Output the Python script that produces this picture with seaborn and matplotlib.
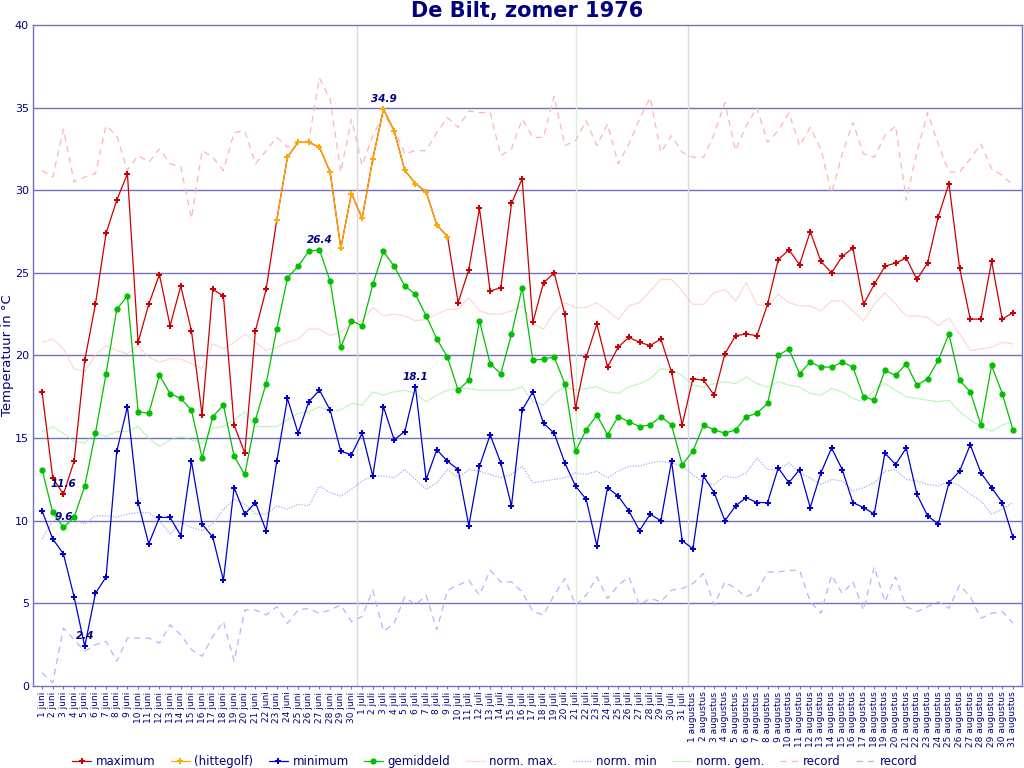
import numpy as np
import pandas as pd
import matplotlib
matplotlib.use("Agg")
import matplotlib.pyplot as plt
import seaborn as sns

# ---------------- data ----------------
juni = [f"{d} juni" for d in range(1, 31)]
juli = [f"{d} juli" for d in range(1, 32)]
augustus = [f"{d} augustus" for d in range(1, 32)]
day_labels = juni + juli + augustus

maximum = [17.8, 12.6, 11.6, 13.6, 19.7, 23.1, 27.4, 29.4, 31.0, 20.8, 23.1, 24.9, 21.8, 24.2, 21.5,
           16.4, 24.0, 23.6, 15.8, 14.1, 21.5, 24.0, 28.2, 32.0, 32.9, 32.9, 32.6, 31.1, 26.5, 29.8,
           28.3, 31.9, 34.9, 33.6, 31.2, 30.4, 29.9, 27.9, 27.2, 23.2, 25.2, 28.9, 23.9, 24.1, 29.2,
           30.7, 22.0, 24.4, 25.0, 22.5, 16.8, 19.9, 21.9, 19.3, 20.5, 21.1, 20.8, 20.6, 21.0, 19.0, 15.8,
           18.6, 18.5, 17.6, 20.1, 21.2, 21.3, 21.2, 23.1, 25.8, 26.4, 25.5, 27.5, 25.7, 25.0, 26.0,
           26.5, 23.1, 24.3, 25.4, 25.6, 25.9, 24.6, 25.6, 28.4, 30.4, 25.3, 22.2, 22.2, 25.7, 22.2, 22.6]

minimum = [10.6, 8.9, 8.0, 5.4, 2.4, 5.6, 6.6, 14.2, 16.9, 11.1, 8.6, 10.2, 10.2, 9.1, 13.6,
           9.8, 9.0, 6.4, 12.0, 10.4, 11.1, 9.4, 13.6, 17.4, 15.3, 17.2, 17.9, 16.7, 14.2, 14.0,
           15.3, 12.7, 16.9, 14.9, 15.4, 18.1, 12.5, 14.3, 13.6, 13.1, 9.7, 13.3, 15.2, 13.5, 10.9,
           16.7, 17.8, 15.9, 15.3, 13.5, 12.1, 11.3, 8.5, 12.0, 11.5, 10.6, 9.4, 10.4, 10.0, 13.6, 8.8,
           8.3, 12.7, 11.7, 10.0, 10.9, 11.4, 11.1, 11.1, 13.2, 12.3, 13.1, 10.8, 12.9, 14.4, 13.1,
           11.1, 10.8, 10.4, 14.1, 13.4, 14.4, 11.6, 10.3, 9.8, 12.3, 13.0, 14.6, 12.9, 12.0, 11.1, 9.0]

gemiddeld = [13.1, 10.5, 9.6, 10.2, 12.1, 15.3, 18.9, 22.8, 23.6, 16.6, 16.5, 18.8, 17.7, 17.4, 16.7,
             13.8, 16.3, 17.0, 13.9, 12.8, 16.1, 18.3, 21.6, 24.7, 25.4, 26.3, 26.4, 24.5, 20.5, 22.1,
             21.8, 24.3, 26.3, 25.4, 24.2, 23.7, 22.4, 21.0, 19.9, 17.9, 18.5, 22.1, 19.5, 18.9, 21.3,
             24.1, 19.7, 19.8, 19.9, 18.3, 14.2, 15.5, 16.4, 15.2, 16.3, 16.0, 15.7, 15.8, 16.3, 15.8, 13.4,
             14.2, 15.8, 15.5, 15.3, 15.5, 16.3, 16.5, 17.1, 20.0, 20.4, 18.9, 19.6, 19.3, 19.3, 19.6,
             19.3, 17.5, 17.3, 19.1, 18.8, 19.5, 18.2, 18.6, 19.7, 21.3, 18.5, 17.8, 15.8, 19.4, 17.7, 15.5]

# heat wave: 23 juni .. 9 juli
hittegolf_start = 22
hittegolf_end = 38

norm_max = [20.8, 21.0, 20.4, 19.2, 19.0, 20.0, 20.6, 20.3, 20.1, 20.6, 19.9, 19.6, 19.8, 19.8, 19.5,
            19.2, 20.7, 20.4, 20.8, 21.3, 20.8, 20.3, 20.5, 20.8, 21.0, 21.6, 21.6, 21.2, 21.4, 21.9,
            22.1, 22.9, 22.4, 22.5, 22.4, 22.1, 22.2, 22.5, 22.8, 22.8, 23.5, 22.7, 22.5, 22.5, 22.7,
            23.0, 21.9, 21.6, 22.6, 23.2, 22.9, 22.9, 23.2, 22.7, 22.2, 23.0, 23.2, 23.9, 24.6, 24.6, 23.9,
            23.1, 23.1, 23.8, 24.0, 23.3, 24.4, 23.1, 23.0, 23.7, 23.2, 23.0, 23.0, 22.7, 23.3, 23.3,
            22.7, 22.1, 23.1, 23.8, 23.1, 22.4, 22.4, 22.3, 21.8, 22.3, 21.3, 20.3, 20.4, 20.5, 20.8, 20.7]

norm_min = [8.9, 10.0, 10.0, 10.1, 9.8, 10.3, 10.3, 10.2, 10.4, 10.5, 10.5, 10.0, 9.2, 9.9, 9.6,
            9.4, 9.8, 10.7, 11.3, 11.0, 10.4, 10.4, 10.9, 10.7, 11.0, 10.9, 12.1, 11.7, 11.5, 11.9,
            12.4, 12.7, 12.7, 12.6, 13.1, 12.5, 11.9, 12.3, 13.1, 12.6, 13.1, 13.0, 12.8, 12.6, 12.8,
            13.3, 12.3, 12.4, 12.5, 12.6, 12.9, 12.8, 13.0, 12.6, 13.0, 13.3, 13.3, 13.5, 13.6, 13.5, 13.3,
            12.8, 12.3, 12.2, 12.7, 12.6, 12.9, 13.8, 13.1, 13.1, 13.5, 12.9, 12.6, 12.2, 12.5, 12.4,
            11.8, 12.0, 12.3, 13.0, 13.1, 12.5, 12.4, 12.2, 12.1, 12.4, 12.1, 11.6, 11.2, 10.4, 10.7, 11.1]

norm_gem = [15.4, 15.7, 15.3, 14.8, 14.7, 15.3, 15.1, 15.4, 15.4, 15.7, 15.0, 14.5, 14.9, 15.1, 14.9,
            14.7, 15.6, 15.7, 16.1, 16.6, 15.7, 15.7, 15.7, 16.1, 16.5, 16.6, 16.9, 16.6, 16.7, 17.1,
            17.0, 17.8, 17.6, 17.8, 17.9, 17.7, 17.2, 17.6, 17.9, 18.0, 18.0, 17.9, 17.9, 17.9, 17.9,
            18.1, 17.2, 17.0, 17.7, 18.1, 17.9, 18.0, 18.1, 17.8, 17.7, 18.1, 18.3, 18.6, 19.2, 19.1, 18.8,
            18.2, 18.1, 18.3, 18.4, 18.3, 18.7, 18.3, 18.1, 18.4, 18.2, 18.1, 17.7, 17.6, 18.0, 17.8,
            17.4, 17.2, 17.9, 18.3, 17.9, 17.5, 17.4, 17.3, 17.2, 17.3, 16.6, 16.1, 15.7, 15.4, 15.8, 16.0]

record_max = [31.2, 30.8, 33.7, 30.5, 30.8, 31.0, 33.9, 33.3, 31.2, 32.1, 31.7, 32.5, 31.6, 31.4, 28.3,
              32.4, 32.0, 31.2, 33.5, 33.6, 31.6, 32.4, 33.2, 32.6, 32.9, 33.0, 36.8, 35.5, 31.1, 34.3,
              31.5, 33.3, 34.6, 33.7, 32.2, 32.4, 32.4, 33.5, 34.4, 33.8, 34.8, 34.7, 34.7, 32.1, 32.5,
              34.3, 33.2, 33.2, 35.7, 32.7, 33.0, 34.2, 32.7, 34.0, 31.6, 32.8, 34.3, 35.6, 32.3, 33.3, 32.3,
              32.0, 32.0, 33.4, 35.3, 32.4, 33.9, 35.0, 32.9, 33.6, 34.7, 32.7, 33.8, 32.5, 29.8, 32.2,
              34.1, 32.2, 32.0, 33.3, 33.9, 29.4, 32.3, 34.7, 32.8, 31.1, 31.1, 31.9, 32.8, 31.3, 30.9, 30.3]

record_min = [0.8, 0.2, 3.5, 2.8, 2.1, 2.5, 2.7, 1.5, 2.9, 2.9, 2.9, 2.6, 3.7, 3.1, 2.2,
              1.8, 3.0, 3.9, 1.5, 4.6, 4.6, 4.3, 4.8, 3.8, 4.6, 4.7, 4.4, 4.6, 4.9, 3.9,
              4.2, 5.8, 3.3, 3.8, 5.4, 4.9, 5.5, 3.4, 5.8, 6.1, 6.4, 5.5, 7.0, 6.3, 6.3,
              5.7, 4.5, 4.3, 5.5, 6.5, 4.9, 5.5, 6.6, 5.3, 6.1, 6.6, 4.9, 5.3, 5.1, 5.8, 5.9,
              6.2, 6.8, 4.9, 6.3, 5.9, 5.4, 5.7, 6.9, 6.9, 7.0, 7.0, 5.1, 4.4, 6.7, 5.6,
              6.3, 4.6, 7.2, 5.1, 6.6, 4.8, 4.5, 4.8, 5.1, 4.7, 6.1, 5.4, 4.1, 4.4, 4.5, 3.8]

y_ticks = [0, 5, 10, 15, 20, 25, 30, 35, 40]

# ---------------- styling ----------------
NAVY = "#000080"
GRID = "#7272b8"

sns.set_style("white")
plt.rcParams['font.family'] = ['DejaVu Sans']

df = pd.DataFrame({
    "dag": np.arange(len(day_labels)),
    "maximum": maximum, "minimum": minimum, "gemiddeld": gemiddeld,
    "norm_max": norm_max, "norm_min": norm_min, "norm_gem": norm_gem,
    "record_max": record_max, "record_min": record_min,
})
hg = df.iloc[hittegolf_start:hittegolf_end + 1]

fig = plt.figure(figsize=(10.24, 7.68), dpi=100)
ax = fig.add_axes([33 / 1024, 82 / 768, 989 / 1024, 661 / 768])

for yv in y_ticks[1:-1]:
    ax.axhline(yv, color=GRID, lw=1.0, zorder=1)
ax.axvline(29.5, color="#d9d9d9", lw=1.0, zorder=1)
ax.axvline(60.5, color="#d9d9d9", lw=1.0, zorder=1)
ax.axvline(50, color="#d8f0d8", lw=1.0, zorder=1)

h = {}
h["norm_max"] = sns.lineplot(data=df, x="dag", y="norm_max", ax=ax, color="#ffc0c0", lw=0.9,
                             linestyle=(0, (1, 0.6)), label="norm. max.", zorder=2).lines[-1]
h["norm_min"] = sns.lineplot(data=df, x="dag", y="norm_min", ax=ax, color="#a8a8ff", lw=0.9,
                             linestyle=(0, (1, 1.2)), label="norm. min", zorder=2).lines[-1]
h["norm_gem"] = sns.lineplot(data=df, x="dag", y="norm_gem", ax=ax, color="#9cf09c", lw=0.9,
                             linestyle=(0, (1, 0.6)), label="norm. gem.", zorder=2).lines[-1]
h["record_max"] = sns.lineplot(data=df, x="dag", y="record_max", ax=ax, color="#ffb4b4", lw=0.9,
                               linestyle=(0, (5, 4)), label="record", zorder=2).lines[-1]
h["record_min"] = sns.lineplot(data=df, x="dag", y="record_min", ax=ax, color="#b4b4ff", lw=0.9,
                               linestyle=(0, (5, 4)), label="record ", zorder=2).lines[-1]

mk = dict(marker="P", markersize=5, markeredgewidth=0)
h["minimum"] = sns.lineplot(data=df, x="dag", y="minimum", ax=ax, color="#0000cc", lw=0.9,
                            label="minimum", zorder=3, **mk).lines[-1]
h["gemiddeld"] = sns.lineplot(data=df, x="dag", y="gemiddeld", ax=ax, color="#00c000", lw=0.9,
                              marker="o", markersize=4.5, markeredgewidth=0,
                              label="gemiddeld", zorder=3).lines[-1]
h["maximum"] = sns.lineplot(data=df, x="dag", y="maximum", ax=ax, color="#cc0000", lw=0.9,
                            label="maximum", zorder=4, **mk).lines[-1]
h["hittegolf"] = sns.lineplot(data=hg, x="dag", y="maximum", ax=ax, color="#ffaa00", lw=0.9,
                              label="(hittegolf)", zorder=5, **mk).lines[-1]
if ax.get_legend() is not None:
    ax.get_legend().remove()

# extreme annotations
def annotate(series, fn):
    arr = np.asarray(series)
    i = int(fn(arr))
    ax.annotate(f"{arr[i]:.1f}", (i, arr[i]), xytext=(0, 3.5), textcoords="offset points",
                ha="center", va="bottom", fontsize=7.5, fontweight="bold", fontstyle="italic",
                color=NAVY, zorder=6)

annotate(maximum, np.argmin)
annotate(maximum, np.argmax)
annotate(gemiddeld, np.argmin)
annotate(gemiddeld, np.argmax)
annotate(minimum, np.argmin)
annotate(minimum, np.argmax)

# axes
ax.set_xlim(-0.85, len(day_labels) - 1 + 0.85)
ax.set_ylim(0, 40)
ax.set_yticks(y_ticks)
ax.set_yticklabels([str(v) for v in y_ticks])
ax.set_xticks(np.arange(len(day_labels)))
ax.set_xticklabels(day_labels, rotation=90, fontsize=6.5, color=NAVY)
ax.tick_params(axis="x", length=2.5, width=0.8, color=GRID, pad=1.5, direction="out", bottom=True)
ax.tick_params(axis="y", length=0, pad=3, labelsize=8, labelcolor=NAVY)
for s in ax.spines.values():
    s.set_color(GRID)
    s.set_linewidth(1.0)
ax.set_xlabel("")
ax.set_ylabel("Temperatuur in °C", color=NAVY, fontsize=9.5)
ax.yaxis.set_label_coords(-0.0195, 0.5)

fig.text(527.5 / 1024, 1 - 11 / 768, "De Bilt, zomer 1976", ha="center", va="center",
         fontsize=15, fontweight="bold", color=NAVY)

order = ["maximum", "hittegolf", "minimum", "gemiddeld", "norm_max", "norm_min", "norm_gem",
         "record_max", "record_min"]
labels = ["maximum", "(hittegolf)", "minimum", "gemiddeld", "norm. max.", "norm. min",
          "norm. gem.", "record", "record"]
fig.legend([h[k] for k in order], labels, loc="lower center", bbox_to_anchor=(495 / 1024, -0.014),
           ncol=9, frameon=False, fontsize=8.5, handlelength=1.6, handletextpad=0.4,
           columnspacing=1.3, labelcolor=NAVY)

fig.savefig("out.png", dpi=100)
